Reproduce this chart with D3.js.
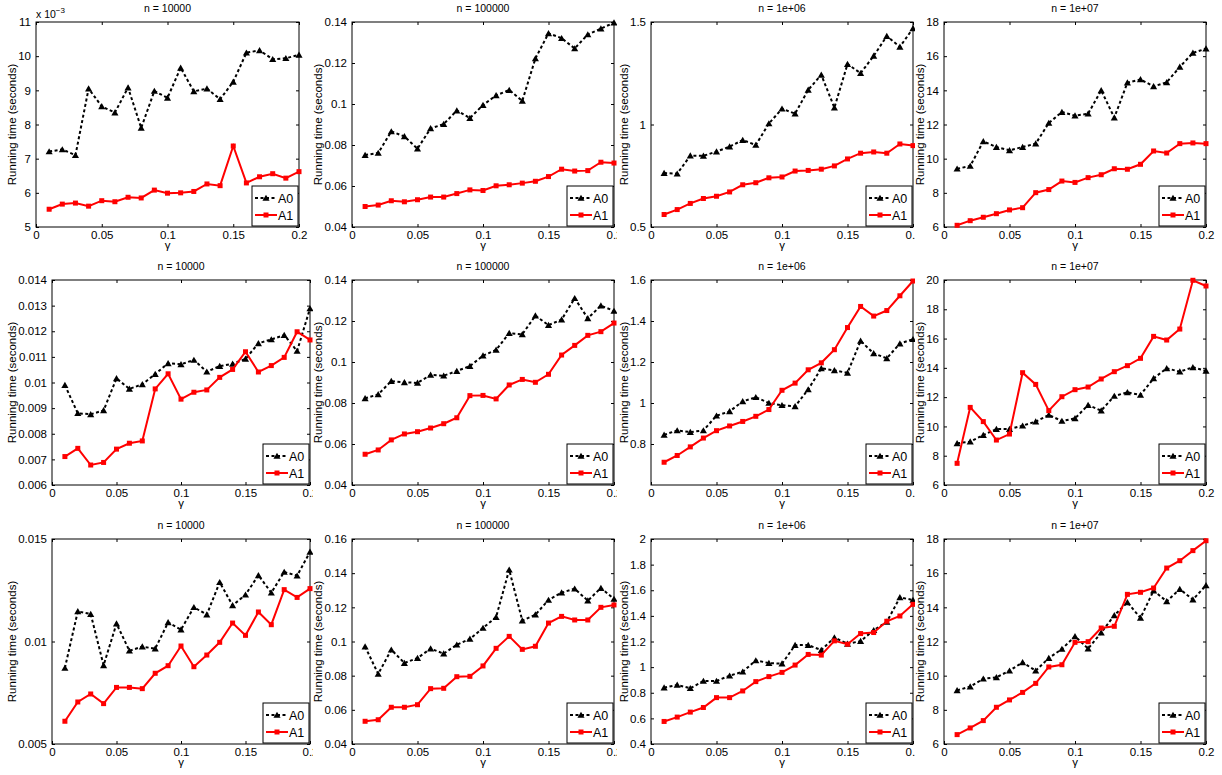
<!DOCTYPE html>
<html><head><meta charset="utf-8">
<script src="https://cdn.jsdelivr.net/npm/d3@7/dist/d3.min.js"></script>
<style>
body{margin:0;background:#fff}
svg{display:block}
text{font-family:"Liberation Sans",Arial,Helvetica,sans-serif;fill:#000}
</style>
</head><body>
<svg id="chart" width="1222" height="775"></svg>
<script>
// ---------------- DATA ----------------
const gamma = [0.01,0.02,0.03,0.04,0.05,0.06,0.07,0.08,0.09,0.10,0.11,0.12,0.13,0.14,0.15,0.16,0.17,0.18,0.19,0.20];
const xTicks = [0,0.05,0.1,0.15,0.2];
const seriesNames = ["A0","A1"];
const titles = ["n = 10000","n = 100000","n = 1e+06","n = 1e+07",
                "n = 10000","n = 100000","n = 1e+06","n = 1e+07",
                "n = 10000","n = 100000","n = 1e+06","n = 1e+07"];

// Row 1
const r1c1_A0 = [0.00721,0.00727,0.00710,0.00905,0.00853,0.00835,0.00908,0.00790,0.00898,0.00878,0.00966,0.00897,0.00905,0.00874,0.00925,0.01010,0.01017,0.00991,0.00994,0.01004];
const r1c1_A1 = [0.00552,0.00567,0.00570,0.00561,0.00577,0.00574,0.00587,0.00585,0.00608,0.00599,0.00600,0.00604,0.00626,0.00621,0.00737,0.00629,0.00647,0.00656,0.00643,0.00662];
const r1c2_A0 = [0.0751,0.0761,0.0866,0.0842,0.0782,0.0881,0.0902,0.0968,0.0931,0.0995,0.1042,0.1068,0.1015,0.1222,0.1345,0.1321,0.1271,0.1339,0.1368,0.1397];
const r1c2_A1 = [0.0500,0.0507,0.0528,0.0523,0.0533,0.0546,0.0546,0.0563,0.0581,0.0578,0.0601,0.0606,0.0614,0.0623,0.0646,0.0682,0.0673,0.0675,0.0716,0.0712];
const r1c3_A0 = [0.763,0.760,0.848,0.847,0.868,0.892,0.924,0.900,1.005,1.077,1.053,1.169,1.242,1.082,1.295,1.250,1.335,1.431,1.379,1.469];
const r1c3_A1 = [0.561,0.585,0.615,0.639,0.650,0.671,0.706,0.716,0.740,0.744,0.773,0.776,0.782,0.798,0.832,0.860,0.866,0.860,0.905,0.897];
const r1c4_A0 = [9.41,9.57,11.01,10.68,10.49,10.68,10.88,12.09,12.73,12.52,12.63,14.00,12.40,14.45,14.64,14.23,14.47,15.37,16.19,16.44];
const r1c4_A1 = [6.10,6.37,6.57,6.78,7.00,7.13,8.01,8.19,8.69,8.61,8.89,9.06,9.41,9.38,9.67,10.45,10.33,10.88,10.92,10.88];
// Row 2
const r2c1_A0 = [0.00990,0.00880,0.00876,0.00891,0.01016,0.00975,0.00993,0.01033,0.01075,0.01071,0.01088,0.01042,0.01064,0.01073,0.01092,0.01153,0.01168,0.01185,0.01123,0.01289];
const r2c1_A1 = [0.00711,0.00743,0.00678,0.00688,0.00740,0.00763,0.00772,0.00975,0.01034,0.00935,0.00962,0.00971,0.01020,0.01051,0.01120,0.01041,0.01066,0.01098,0.01198,0.01166];
const r2c2_A0 = [0.0823,0.0842,0.0907,0.0901,0.0898,0.0937,0.0933,0.0956,0.0980,0.1031,0.1059,0.1141,0.1135,0.1226,0.1180,0.1207,0.1311,0.1213,0.1275,0.1249];
const r2c2_A1 = [0.0550,0.0571,0.0620,0.0649,0.0660,0.0678,0.0699,0.0728,0.0836,0.0837,0.0820,0.0888,0.0915,0.0901,0.0940,0.1034,0.1081,0.1130,0.1148,0.1190];
const r2c3_A0 = [0.845,0.866,0.858,0.866,0.938,0.959,1.008,1.028,1.000,0.989,0.984,1.066,1.169,1.159,1.147,1.303,1.242,1.218,1.290,1.311];
const r2c3_A1 = [0.711,0.744,0.786,0.829,0.865,0.888,0.910,0.935,0.968,1.062,1.097,1.162,1.196,1.260,1.368,1.471,1.424,1.451,1.523,1.595];
const r2c4_A0 = [8.85,8.96,9.41,9.82,9.82,10.05,10.33,10.78,10.37,10.55,11.46,11.08,12.08,12.33,12.15,13.28,13.97,13.74,14.04,13.79];
const r2c4_A1 = [7.48,11.30,10.33,9.07,9.48,13.67,12.87,11.08,12.03,12.51,12.69,13.24,13.74,14.15,14.65,16.15,15.90,16.65,19.98,19.59];
// Row 3
const r3c1_A0 = [0.00871,0.01147,0.01134,0.00884,0.01087,0.00955,0.00975,0.00965,0.01093,0.01058,0.01167,0.01131,0.01289,0.01176,0.01228,0.01323,0.01238,0.01339,0.01321,0.01437];
const r3c1_A1 = [0.00611,0.00705,0.00744,0.00697,0.00776,0.00776,0.00770,0.00845,0.00882,0.00978,0.00877,0.00934,0.00996,0.01090,0.01030,0.01144,0.01082,0.01253,0.01215,0.01258];
const r3c2_A0 = [0.0970,0.0810,0.0952,0.0874,0.0903,0.0958,0.0929,0.0981,0.1015,0.1079,0.1143,0.1420,0.1122,0.1157,0.1243,0.1286,0.1309,0.1239,0.1313,0.1249];
const r3c2_A1 = [0.0533,0.0542,0.0615,0.0615,0.0630,0.0724,0.0726,0.0794,0.0796,0.0857,0.0960,0.1030,0.0954,0.0972,0.1108,0.1147,0.1126,0.1126,0.1200,0.1214];
const r3c3_A0 = [0.840,0.861,0.835,0.892,0.892,0.933,0.964,1.052,1.032,1.027,1.172,1.172,1.133,1.231,1.182,1.203,1.288,1.353,1.544,1.524];
const r3c3_A1 = [0.576,0.610,0.649,0.685,0.762,0.762,0.814,0.887,0.926,0.959,1.016,1.099,1.094,1.205,1.179,1.262,1.270,1.358,1.399,1.490];
const r3c4_A0 = [9.14,9.36,9.82,9.90,10.29,10.78,10.29,11.03,11.56,12.30,11.58,12.52,13.53,14.29,13.38,14.98,14.35,15.07,14.45,15.29];
const r3c4_A1 = [6.55,6.94,7.37,8.15,8.58,9.02,9.55,10.51,10.64,11.95,11.99,12.79,12.89,14.76,14.88,15.13,16.30,16.73,17.32,17.90];

// Y axis ranges and tick values
const yDomains = [[0.005,0.011],[0.04,0.14],[0.5,1.5],[6,18],
                  [0.006,0.014],[0.04,0.14],[0.6,1.6],[6,20],
                  [0.005,0.015],[0.04,0.16],[0.4,2],[6,18]];
const yTickVals = [[0.005,0.006,0.007,0.008,0.009,0.010,0.011],[0.04,0.06,0.08,0.1,0.12,0.14],[0.5,1,1.5],[6,8,10,12,14,16,18],
                   [0.006,0.007,0.008,0.009,0.01,0.011,0.012,0.013,0.014],[0.04,0.06,0.08,0.1,0.12,0.14],[0.8,1,1.2,1.4,1.6],[6,8,10,12,14,16,18,20],
                   [0.005,0.01,0.015],[0.04,0.06,0.08,0.1,0.12,0.14,0.16],[0.4,0.6,0.8,1,1.2,1.4,1.6,1.8,2],[6,8,10,12,14,16,18]];
const yMultipliers = [1e-3,1,1,1,1,1,1,1,1,1,1,1];

const seriesA0 = [r1c1_A0,r1c2_A0,r1c3_A0,r1c4_A0,r2c1_A0,r2c2_A0,r2c3_A0,r2c4_A0,r3c1_A0,r3c2_A0,r3c3_A0,r3c4_A0];
const seriesA1 = [r1c1_A1,r1c2_A1,r1c3_A1,r1c4_A1,r2c1_A1,r2c2_A1,r2c3_A1,r2c4_A1,r3c1_A1,r3c2_A1,r3c3_A1,r3c4_A1];

// ---------------- LAYOUT ----------------
const rowTops = [22, 280, 539];
const plotH = 205;
const colLefts  = [[36,352,651,944],[52,352,651,944],[52,352,651,944]];
const colWidths = [[263,262,262,262],[258,262,262,262],[258,262,262,262]];
const clipEdges = [[0,308,617,915,1222],[0,313,617,915,1222],[0,313,617,915,1222]];
const rowBands = [[0,258],[258,517],[517,775]];
const RED = "#ff0000";
const fmt = v => String(+(+v).toFixed(6));

const svg = d3.select("#chart");
const defs = svg.append("defs");

titles.forEach((title, i) => {
  const row = Math.floor(i/4), col = i % 4;
  const left = colLefts[row][col], top = rowTops[row];
  const plotW = colWidths[row][col];
  const right = left + plotW, bottom = top + plotH;
  const mult = yMultipliers[i];

  defs.append("clipPath").attr("id","clip"+i).append("rect")
    .attr("x", clipEdges[row][col]).attr("y", rowBands[row][0])
    .attr("width", clipEdges[row][col+1]-clipEdges[row][col])
    .attr("height", rowBands[row][1]-rowBands[row][0]);
  defs.append("clipPath").attr("id","pclip"+i).append("rect")
    .attr("x", left-6).attr("y", top-6).attr("width", plotW+12).attr("height", plotH+12);

  const g = svg.append("g").attr("clip-path","url(#clip"+i+")");
  g.append("rect").attr("x", clipEdges[row][col]).attr("y", rowBands[row][0])
    .attr("width", clipEdges[row][col+1]-clipEdges[row][col])
    .attr("height", rowBands[row][1]-rowBands[row][0]).attr("fill","#fff");

  const x = d3.scaleLinear().domain([0,0.2]).range([left,right]);
  const y = d3.scaleLinear().domain(yDomains[i]).range([bottom,top]);

  const styleAxis = sel => {
    sel.select(".domain").remove();
    sel.selectAll(".tick line").attr("stroke","#000").attr("stroke-width",1);
    sel.selectAll("text").attr("font-size","11.5px").attr("fill","#000")
      .attr("font-family",'"Liberation Sans",Arial,sans-serif');
  };

  g.append("g").attr("transform",`translate(0,${bottom})`)
    .call(d3.axisBottom(x).tickValues(xTicks).tickSizeInner(-3).tickSizeOuter(0).tickPadding(4).tickFormat(fmt))
    .call(styleAxis);
  g.append("g").attr("transform",`translate(0,${top})`)
    .call(d3.axisTop(x).tickValues(xTicks).tickSizeInner(-3).tickSizeOuter(0).tickFormat(""))
    .call(styleAxis);
  const yl = g.append("g").attr("transform",`translate(${left},0)`)
    .call(d3.axisLeft(y).tickValues(yTickVals[i]).tickSizeInner(-3).tickSizeOuter(0).tickPadding(5)
      .tickFormat(v => fmt(v / mult)))
    .call(styleAxis);
  g.append("g").attr("transform",`translate(${right},0)`)
    .call(d3.axisRight(y).tickValues(yTickVals[i]).tickSizeInner(-3).tickSizeOuter(0).tickFormat(""))
    .call(styleAxis);

  // box
  g.append("rect").attr("x",left).attr("y",top).attr("width",plotW).attr("height",plotH)
    .attr("fill","none").attr("stroke","#000").attr("stroke-width",1);

  // y label
  let maxW = 0;
  yl.selectAll("text").each(function(){ maxW = Math.max(maxW, this.getComputedTextLength()); });
  const labX = left - 5 - maxW - 2.5;
  g.append("text").attr("transform",`translate(${labX},${(top+bottom)/2}) rotate(-90)`)
    .attr("text-anchor","middle").attr("font-size","11.5px").text("Running time (seconds)");

  // x label
  g.append("text").attr("x",(left+right)/2).attr("y",bottom+22).attr("text-anchor","middle")
    .attr("font-size","11.5px").text("γ");

  // title
  g.append("text").attr("x",(left+right)/2).attr("y",top-10).attr("text-anchor","middle")
    .attr("font-size","10.5px").text(title);

  // multiplier
  if (mult !== 1) {
    const t = g.append("text").attr("x",left).attr("y",top-4).attr("font-size","10.5px");
    t.append("tspan").text("x 10");
    t.append("tspan").attr("dy",-5).attr("font-size","8px").text("−3");
  }

  // data
  const pg = g.append("g").attr("clip-path","url(#pclip"+i+")");
  const line = d3.line().x(d => x(d[0])).y(d => y(d[1]));
  const dA0 = gamma.map((gv,k) => [gv, seriesA0[i][k]]);
  const dA1 = gamma.map((gv,k) => [gv, seriesA1[i][k]]);
  const tri = d3.symbol().type(d3.symbolTriangle).size(22);

  pg.append("path").datum(dA0).attr("d",line).attr("fill","none").attr("stroke","#000")
    .attr("stroke-width",2).attr("stroke-dasharray","3,2.5");
  pg.selectAll(".m0").data(dA0).enter().append("path")
    .attr("transform",d => `translate(${x(d[0])},${y(d[1])+0.8})`).attr("d",tri).attr("fill","#000");

  pg.append("path").datum(dA1).attr("d",line).attr("fill","none").attr("stroke",RED)
    .attr("stroke-width",2);
  pg.selectAll(".m1").data(dA1).enter().append("rect")
    .attr("x",d => x(d[0])-2.5).attr("y",d => y(d[1])-2.5).attr("width",5).attr("height",5).attr("fill",RED);

  // legend
  const lw = 46, lh = 40;
  const lx = right - lw - 1, ly = bottom - lh - 1;
  const lg = g.append("g");
  lg.append("rect").attr("x",lx).attr("y",ly).attr("width",lw).attr("height",lh)
    .attr("fill","#fff").attr("stroke","#000").attr("stroke-width",1);
  const rowsY = [ly+12, ly+29];
  seriesNames.forEach((nm, k) => {
    const yy = rowsY[k];
    lg.append("line").attr("x1",lx+3).attr("x2",lx+25).attr("y1",yy).attr("y2",yy)
      .attr("stroke", k===0 ? "#000" : RED).attr("stroke-width",2)
      .attr("stroke-dasharray", k===0 ? "3,2.5" : null);
    if (k===0) {
      lg.append("path").attr("transform",`translate(${lx+14},${yy+0.8})`).attr("d",tri).attr("fill","#000");
    } else {
      lg.append("rect").attr("x",lx+11.5).attr("y",yy-2.5).attr("width",5).attr("height",5).attr("fill",RED);
    }
    lg.append("text").attr("x",lx+26).attr("y",yy+4.5).attr("font-size","12.5px").text(nm);
  });
});
</script>
</body></html>
